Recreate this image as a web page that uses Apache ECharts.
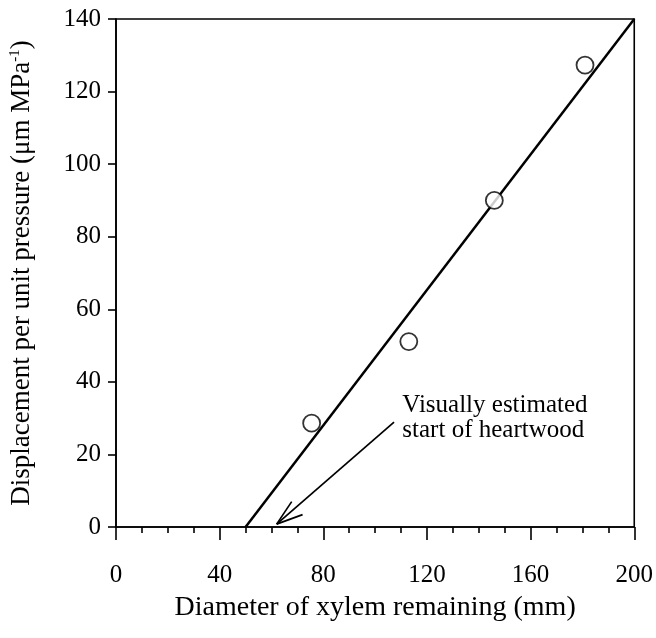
<!DOCTYPE html>
<html>
<head>
<meta charset="utf-8">
<script src="https://cdn.jsdelivr.net/npm/echarts@6/dist/echarts.min.js"></script>
<style>
html,body{margin:0;padding:0;background:#fff;}
#chart{width:656px;height:638px;}
</style>
</head>
<body>
<div id="chart"></div>
<script>
// ---- data ----
const diameterX = [75.5, 113, 146, 181];
const displacementY = [28.6, 51.1, 90, 127.3];
const fitX = [50, 200];
const fitY = [0, 140];
const xTicks = [0, 40, 80, 120, 160, 200];
const yTicks = [0, 20, 40, 60, 80, 100, 120, 140];
const annotationText = ['Visually estimated', 'start of heartwood'];
const annotationAnchor = [110.5, 30];
const arrowTail = [107.3, 28.9];
const arrowTip = [62, 0.8];
const arrowBarbs = [[67.8, 7.0], [72, 3.4]];

const FONT = '"Liberation Serif", "Times New Roman", serif';

const chart = echarts.init(document.getElementById('chart'), null, {renderer: 'canvas'});

const option = {
  animation: false,
  backgroundColor: '#fff',
  grid: {
    left: 116, right: 20, top: 19, bottom: 111,
    show: true, borderColor: '#000', borderWidth: 1.6, backgroundColor: 'transparent'
  },
  xAxis: {
    type: 'value',
    min: xTicks[0], max: xTicks[xTicks.length - 1], interval: 40,
    name: 'Diameter of xylem remaining (mm)',
    nameLocation: 'middle', nameGap: 67,
    nameTextStyle: {fontFamily: FONT, fontSize: 28, color: '#000'},
    axisLine: {show: true, lineStyle: {color: '#000', width: 1.6}},
    axisTick: {show: true, inside: false, length: 13, lineStyle: {color: '#000', width: 1.6}},
    minorTick: {show: true, splitNumber: 4, length: 6, lineStyle: {color: '#000', width: 1.6}},
    axisLabel: {fontFamily: FONT, fontSize: 25, color: '#000', margin: 36},
    splitLine: {show: false}
  },
  yAxis: {
    type: 'value',
    min: yTicks[0], max: yTicks[yTicks.length - 1], interval: 20,
    name: '{t|Displacement per unit pressure (μm MPa}{s|-1}{t|)}',
    nameLocation: 'middle', nameGap: 81,
    nameTextStyle: {
      fontFamily: FONT, fontSize: 27, color: '#000',
      rich: {
        t: {fontFamily: FONT, fontSize: 27, color: '#000'},
        s: {fontFamily: FONT, fontSize: 15, color: '#000', verticalAlign: 'top', padding: [0, 0, 10, 0]}
      }
    },
    axisLine: {show: true, lineStyle: {color: '#000', width: 1.6}},
    axisTick: {show: true, inside: false, length: 8, lineStyle: {color: '#000', width: 1.6}},
    axisLabel: {fontFamily: FONT, fontSize: 25, color: '#000', margin: 15},
    splitLine: {show: false}
  },
  series: [
    {
      type: 'line',
      data: fitX.map((x, i) => [x, fitY[i]]),
      symbol: 'none',
      lineStyle: {color: '#000', width: 2.5},
      z: 2
    },
    {
      type: 'scatter',
      data: diameterX.map((x, i) => [x, displacementY[i]]),
      symbol: 'circle',
      symbolSize: 17,
      itemStyle: {color: '#fff', borderColor: '#000', borderWidth: 1.8},
      z: 3
    },
    {
      type: 'custom',
      data: [0],
      z: 4,
      silent: true,
      renderItem: function (params, api) {
        const tail = api.coord(arrowTail);
        const tip = api.coord(arrowTip);
        const children = [
          {type: 'line', shape: {x1: tail[0], y1: tail[1], x2: tip[0], y2: tip[1]},
           style: {stroke: '#000', lineWidth: 1.7}}
        ];
        arrowBarbs.forEach(b => {
          const p = api.coord(b);
          children.push({type: 'line', shape: {x1: tip[0], y1: tip[1], x2: p[0], y2: p[1]},
            style: {stroke: '#000', lineWidth: 1.7}});
        });
        const a = api.coord(annotationAnchor);
        children.push({
          type: 'text',
          style: {
            text: annotationText.join('\n'),
            x: a[0], y: a[1],
            fill: '#000',
            font: '25px ' + FONT,
            lineHeight: 25,
            align: 'left', verticalAlign: 'middle'
          }
        });
        return {type: 'group', children: children};
      }
    }
  ]
};
chart.setOption(option);
</script>
</body>
</html>
